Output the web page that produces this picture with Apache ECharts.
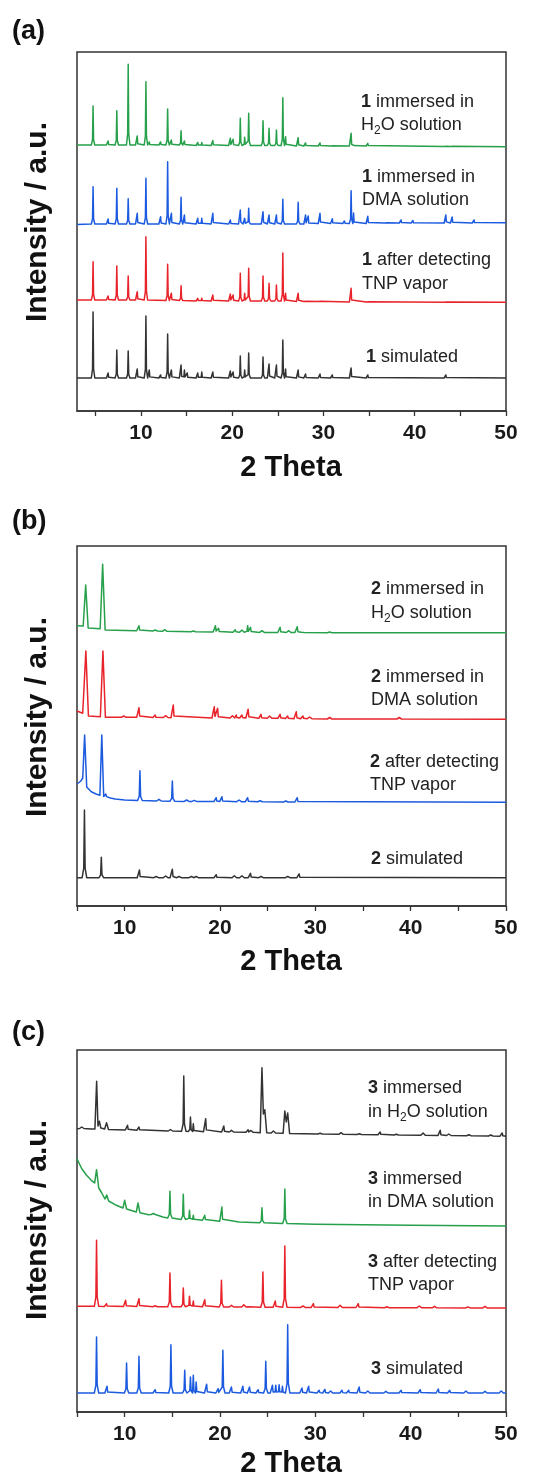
<!DOCTYPE html>
<html><head><meta charset="utf-8">
<script src="https://cdn.jsdelivr.net/npm/echarts@6/dist/echarts.min.js"></script>
<style>html,body{margin:0;padding:0;background:#fff}#c{width:544px;height:1479px}</style>
</head><body><div id="c"></div>
<script>
// ---- tick values ----
const xTickLabels = [10, 20, 30, 40, 50];
const xTicks = [5, 10, 15, 20, 25, 30, 35, 40, 45, 50];
const panelTags = ['(a)', '(b)', '(c)'];
const xTitle = '2 Theta';
const yTitle = 'Intensity / a.u.';

// ---- data: [2theta, intensity] vertex, or [2theta, local base, peak top] (a.u., stacked offsets included) ----
// Panel (a) – compound 1
const a_sim = [[3,33],[4.76,33,99],[6.41,33,38],[7.36,33,61],[8.61,33,60],[9.60,33,42],[10.55,33,95],[10.92,33,41],[12.16,33,36],[12.93,33,77],[13.34,33,41],[14.40,33,46],[14.77,33,41],[15.08,33,38],[16.23,33,38],[16.67,33,39],[17.88,33,39],[19.8,33,40],[20.1,33,39],[20.89,33,55],[21.37,33,41],[21.81,33,58],[23.38,33,54],[24.04,33,47],[24.85,33,46],[25.55,33,71],[25.85,33,42],[27.23,33,41],[28.04,33,37],[29.62,33,37],[30.97,33,36],[33.03,33,43],[34.86,33,36],[43.41,33,36],[50,33]];
const a_tnp = [[3,111],[4.76,111,149.3],[6.41,111,115],[7.36,111,145],[8.61,111,135],[9.60,111,119.3],[10.55,111,174.3],[12.93,110.5,146.7],[13.34,110.5,117.7],[14.40,110.5,125.3],[16.23,110,112.7],[16.67,110,112.7],[17.88,110,116],[19.8,110,117],[20.1,110,116],[20.89,110,137.7],[21.37,110,117.7],[21.81,110,142.7],[23.38,110,135],[24.04,110,127.7],[24.85,110,126],[25.55,110,158],[25.85,110,117.7],[27.23,109.5,117.7],[28.04,109.5,111.3],[29.62,109.5,111.3],[33.03,109,122.7],[34.86,109,111],[43.41,108.7,110.5],[50,108.7]];
const a_dma = [[3,186.5],[4.76,187,224.3],[6.41,187,192],[7.36,187,222.7],[8.61,187,212.3],[9.60,187,197.7],[10.55,187,232.7],[12.16,187,194.3],[12.93,187,249.3],[13.34,187,197.7],[14.40,187,213.7],[14.77,187,196],[16.23,187,192.7],[16.67,187,192.7],[17.88,187,197.7],[19.8,187,191],[20.89,187,201],[21.37,187,192.7],[21.81,187,202.7],[23.38,187,199.3],[24.04,187,196],[24.85,187,196],[25.55,187,211.7],[27.23,187,208.7],[28.04,187,196],[28.33,187,195],[29.62,187.5,197.7],[30.97,187.5,192.3],[32.3,187.5,190],[33.03,187.5,220.3],[33.3,187.5,198],[34.86,187.5,194.7],[36.9,188,190],[38.5,188,191],[39.8,188,190.5],[43.41,188,196],[44.10,188,194],[46.5,188,191],[50,188.3]];
const a_h2o = [[3,266],[4.76,266,305],[6.41,266,270],[7.36,266,300.3],[8.61,266,346.7],[9.60,266,275],[10.55,266,329.3],[10.92,266,269],[12.16,266,269],[12.93,266,302],[13.34,266,271],[14.40,266,280.3],[14.77,266,270],[16.23,265.5,268.5],[16.67,265.5,268.5],[17.88,265.5,270.5],[19.8,265.5,272.7],[20.1,265.5,271.7],[20.89,265.5,292.7],[21.37,265.5,273.7],[21.81,265.5,297.7],[23.38,265.5,290.3],[24.04,265.5,282.7],[24.85,265.5,281],[25.55,265.5,313.3],[25.85,265.5,274.3],[27.23,265,273.3],[28.04,265,268],[29.62,265,268],[30.97,265,267],[33.03,265,277.7],[33.3,265,268],[34.86,265,267.7],[43.41,264.5,266.5],[44.10,264.5,266.5],[50,264.3]];

// Panel (b) – compound 2
const b_sim = [[5,28.3],[5.78,28.3,96],[7.55,28.3,48.7],[11.55,28.3,36],[13.3,28.3,29.5],[14.3,28.3,30],[15.0,28.3,36.7],[15.7,28.3,29.5],[17.0,28.3,29.5],[17.5,28.3,29.5],[19.6,28.3,31.3],[21.5,28.3,30.3],[22.3,28.3,30.3],[23.2,28.3,32.7],[24.3,28.3,29.5],[27.1,28.3,29.5],[28.3,28.3,32],[50,28.3]];
const b_tnp = [[5,122],[5.4,125],[5.6,128],[5.8,171],[6.02,119],[6.5,114.3],[7.0,112],[7.4,110.8],[7.6,171],[7.8,109.5],[8.02,109,112],[8.5,108],[9.0,107],[10,106],[11.6,105.5,135.3],[13.6,105,106.7],[15.0,104.8,125],[16.5,104.6,106],[17.3,104.6,105.6],[19.6,104.4,108.3],[20.2,104.4,109.3],[22.0,104.3,106],[22.9,104.3,108.3],[24.2,104.2,105.3],[26.9,104,105],[28.1,104,108.3],[50,103.7]];
const b_dma = [[5,195],[5.6,192.7],[5.93,255],[6.2,190],[7.45,189.3],[7.72,255],[7.98,188.7],[9.9,188.7,190],[11.5,188.7,198.3],[13.2,188.5,191],[14.3,188.5,190.3],[15.1,188.3,201],[19.4,188,199.3],[19.75,188,197.7],[21.3,188,190.3],[21.7,188,191],[22.3,188,191],[22.95,188,196.7],[24.3,187.7,191.7],[25.2,187.7,190],[26.3,187.7,191.7],[27.1,187.5,190],[28.0,187.3,194.3],[28.7,187.3,190],[29.4,187.3,189],[31.5,187,188.5],[38.8,187,188.5],[50,186.7]];
const b_h2o = [[5,280.3],[5.65,280],[5.91,321],[6.17,278],[7.0,277.5],[7.43,277.3],[7.69,341.7],[7.95,276],[11.5,275.3,280.3],[13.2,275,276],[14.2,274.7,276.3],[17.2,274.3,275],[19.52,274,280.3],[19.85,274,277.7],[21.6,273.8,276.3],[22.3,273.8,276],[22.9,273.7,280.3],[23.2,273.7,278.7],[24.4,273.6,275.3],[26.3,273.5,278.7],[27.2,273.5,275.3],[28.1,273.4,279.3],[28.6,273.4,275.3],[31.5,273.3,274],[50,273.3]];

// Panel (c) – compound 3
const c_sim = [[5,19],[7.05,19,75],[8.15,19,25.7],[10.2,19,49],[11.5,19,55.7],[13.2,19,22.3],[14.85,19,67.3],[16.3,19,41.7],[16.9,19,35],[17.2,19,36.7],[17.5,19,30],[18.6,19,27.7],[19.8,19,23.3],[20.3,19,61.7],[21.2,19,25],[22.4,19,25.7],[23.1,19,25],[24.0,19,22.3],[24.8,19,50.7],[25.5,19,26.7],[25.85,19,26.7],[26.2,19,27.3],[26.55,19,25.7],[27.1,19,87.3],[28.6,19,24],[29.3,19,25.7],[30.4,19,21.7],[31.0,19,22.7],[31.6,19,21],[32.8,19,21.7],[33.5,19,21.7],[34.6,19,25],[35.5,19,21],[37.4,19,20.7],[39.0,19,21.7],[41.0,19,22.3],[42.9,19,23],[44.1,19,21.7],[45.8,19,21],[47.8,19,20.7],[49.5,19,21],[50,19]];
const c_tnp = [[5,105.7],[7.05,105.7,171.7],[8.1,105.5,108.3],[10.1,105.5,111.7],[11.5,105.5,113.3],[13.2,105.3,106.3],[14.75,105.3,139],[16.15,105.2,124],[16.8,105.2,115.7],[17.2,105.2,111],[18.4,105.2,112.3],[20.15,105,131.7],[21.2,105,106.7],[22.5,105,107.3],[22.9,105,106.7],[24.5,104.8,140],[25.8,104.8,111],[26.8,104.8,166],[28.7,104.6,106],[29.8,104.6,108.3],[32.6,104.5,106.7],[34.5,104.5,108.3],[37.5,104.3,105.3],[40.9,104.3,106],[42.5,104.2,105.7],[46,104.1,105],[47.8,104.1,105.7],[50,104]];
const c_dma = [[5,253.3],[5.5,243.3],[6.0,236.7],[6.5,231.7],[6.85,229],[7.05,242.3],[7.28,224],[7.6,219],[7.93,213],[8.12,217],[8.32,211],[9.0,207.3],[9.82,204],[10.0,211.7],[10.2,203],[11.22,200],[11.4,209],[11.6,199.3],[12.5,197.3],[13.0,197.5,198.5],[14.0,195],[14.75,194,220.7],[16.15,192.5,217.7],[16.8,192.3,201.7],[17.2,192.2,196.7],[18.4,191.7,196.7],[20.2,190.8,205],[22.0,190],[24.4,189.3,204.3],[26.8,188.5,223],[30,187.7],[40,186.7],[50,186]];
const c_h2o = [[5,283.3],[5.5,283.5,285],[6.5,283],[6.88,283],[7.06,330.7],[7.2,286],[7.35,290.7],[7.5,284],[7.9,283],[8.1,289.3],[8.3,282.5],[10.3,282,286.7],[11.5,281.7,285],[14.8,281,282.5],[16.2,280.7,336],[16.9,280.5,295],[17.2,280.5,288.3],[18.5,280.3,293.3],[20.4,280,286],[21.2,280,281.7],[22.95,279.7,282.3],[23.25,279.7,281.5],[24.22,279.3],[24.4,344.3],[24.55,298],[24.7,302.3],[24.9,279.3],[25.6,279,281],[26.62,278.7],[26.8,301],[26.95,290],[27.1,299],[27.3,278.6],[30.5,278,278.8],[32.7,277.7,279.3],[34.6,277.5,278.3],[36.8,277.3,280],[38.5,277,277.8],[41.3,276.8,279],[43.1,276.6,281.7],[44.0,276.5,278],[46.1,276.3,277.3],[48.4,276,277],[49.6,275.8,279],[50,275.7]];

// ---- labels ----
const labelsA = [['{b|1}{n| immersed in}', '{n|H}{s|2}{n|O solution}'], ['{b|1}{n| immersed in}', '{n|DMA solution}'], ['{b|1}{n| after detecting}', '{n|TNP vapor}'], ['{b|1}{n| simulated}']];
const labelsB = [['{b|2}{n| immersed in}', '{n|H}{s|2}{n|O solution}'], ['{b|2}{n| immersed in}', '{n|DMA solution}'], ['{b|2}{n| after detecting}', '{n|TNP vapor}'], ['{b|2}{n| simulated}']];
const labelsC = [['{b|3}{n| immersed}', '{n|in H}{s|2}{n|O solution}'], ['{b|3}{n| immersed}', '{n|in DMA solution}'], ['{b|3}{n| after detecting}', '{n|TNP vapor}'], ['{b|3}{n| simulated}']];

// ---- layout / style ----
const FONT = '"Liberation Sans", Arial, Helvetica, sans-serif';
const COL = { green: '#26a04a', blue: '#1c5be0', red: '#e8232a', black: '#333333' };
const grids = [
  { left: 77, top: 52, width: 429, height: 359 },
  { left: 77, top: 546, width: 429, height: 360 },
  { left: 77, top: 1050, width: 429, height: 362 }
];
const xMins = [3, 5, 5];
const yMaxs = [359, 360, 362];
const halfW = [0.19, 0.24, 0.23];   // drawn peak foot half-width (deg)

// expand peak entries into a line trace with a narrow top and a slightly wider foot
function build(entries, w) {
  const out = []; let lastX = -Infinity;
  for (const e of entries) {
    if (e.length === 2) { out.push([e[0], e[1]]); lastX = e[0]; }
    else {
      const p = e[0], b = e[1], t = e[2];
      const l = Math.max(p - w, lastX);
      const ls = Math.max(p - w * 0.3, l);
      const sh = b + (t - b) * 0.14;
      out.push([l, b]); out.push([ls, sh]); out.push([p, t]); out.push([p + w * 0.3, sh]); out.push([p + w, b]);
      lastX = p + w;
    }
  }
  return out;
}

const seriesDefs = [
  [0, a_h2o, COL.green], [0, a_dma, COL.blue], [0, a_tnp, COL.red], [0, a_sim, COL.black],
  [1, b_h2o, COL.green], [1, b_dma, COL.red], [1, b_tnp, COL.blue], [1, b_sim, COL.black],
  [2, c_h2o, COL.black], [2, c_dma, COL.green], [2, c_tnp, COL.red], [2, c_sim, COL.blue]
];

const series = seriesDefs.map(([g, d, c]) => ({
  type: 'line', xAxisIndex: g, yAxisIndex: g, data: build(d, halfW[g]),
  showSymbol: false, symbol: 'none', silent: true, animation: false,
  lineStyle: { color: c, width: 1.5, join: 'round' }, z: 3
}));

const xAxes = grids.map((_, i) => ({
  type: 'value', gridIndex: i, min: xMins[i], max: 50,
  axisLine: { show: true, onZero: false, lineStyle: { color: '#333', width: 1.5 } },
  axisTick: { show: true, inside: false, length: 5, customValues: xTicks, lineStyle: { color: '#333', width: 1.3 } },
  minorTick: { show: false },
  axisLabel: { customValues: xTickLabels, fontSize: 21, fontWeight: 'bold', color: '#1a1a1a', fontFamily: FONT, margin: 12, showMinLabel: true, showMaxLabel: true },
  splitLine: { show: false }
}));
const yAxes = grids.map((_, i) => ({
  type: 'value', gridIndex: i, min: 0, max: yMaxs[i], show: false, splitLine: { show: false }
}));

const rich = {
  n: { fontSize: 18, fontFamily: FONT, lineHeight: 24, fill: '#222' },
  b: { fontSize: 18, fontFamily: FONT, fontWeight: 'bold', lineHeight: 24, fill: '#222' },
  s: { fontSize: 12, fontFamily: FONT, lineHeight: 12, verticalAlign: 'bottom', fill: '#222' }
};
const graphic = [];
function txt(x, y, text) {
  graphic.push({ type: 'text', x: x, y: y, silent: true, style: { text: text, rich: rich, fill: '#222', align: 'left', verticalAlign: 'middle', textAlign: 'left', textVerticalAlign: 'middle', fontSize: 18, fontFamily: FONT } });
}
const labelPos = [
  [[361, 102, 125], [362, 177, 200], [362, 260, 284], [366, 357]],
  [[371, 589, 613], [371, 677, 700], [370, 762, 785], [371, 859]],
  [[368, 1088, 1112], [368, 1179, 1202], [368, 1262, 1285], [371, 1369]]
];
[labelsA, labelsB, labelsC].forEach((set, pi) => {
  set.forEach((lines, li) => {
    const pos = labelPos[pi][li];
    lines.forEach((ln, k) => txt(pos[0], pos[1 + k], ln));
  });
});
const tagY = [32, 522, 1033];
const yTitleY = [222, 717, 1220];
const xTitleY = [468, 962, 1464];
for (let i = 0; i < 3; i++) {
  graphic.push({ type: 'text', x: 12, y: tagY[i], silent: true, style: { text: panelTags[i], fontSize: 27, fontWeight: 'bold', fontFamily: FONT, fill: '#111', align: 'left', verticalAlign: 'middle', textAlign: 'left', textVerticalAlign: 'middle' } });
  graphic.push({ type: 'text', x: 38, y: yTitleY[i], rotation: Math.PI / 2, silent: true, style: { text: yTitle, fontSize: 30, fontWeight: 'bold', fontFamily: FONT, fill: '#111', align: 'center', verticalAlign: 'middle', textAlign: 'center', textVerticalAlign: 'middle' } });
  graphic.push({ type: 'text', x: 291, y: xTitleY[i], silent: true, style: { text: xTitle, fontSize: 29, fontWeight: 'bold', fontFamily: FONT, fill: '#111', align: 'center', verticalAlign: 'middle', textAlign: 'center', textVerticalAlign: 'middle' } });
}

const chart = echarts.init(document.getElementById('c'), null, { renderer: 'canvas', width: 544, height: 1479 });
chart.setOption({
  backgroundColor: '#fff',
  animation: false,
  grid: grids.map(g => Object.assign({ show: true, borderColor: '#333', borderWidth: 1.5, backgroundColor: 'transparent', containLabel: false, outerBoundsMode: 'none' }, g)),
  xAxis: xAxes,
  yAxis: yAxes,
  series: series,
  graphic: graphic
});
</script></body></html>
